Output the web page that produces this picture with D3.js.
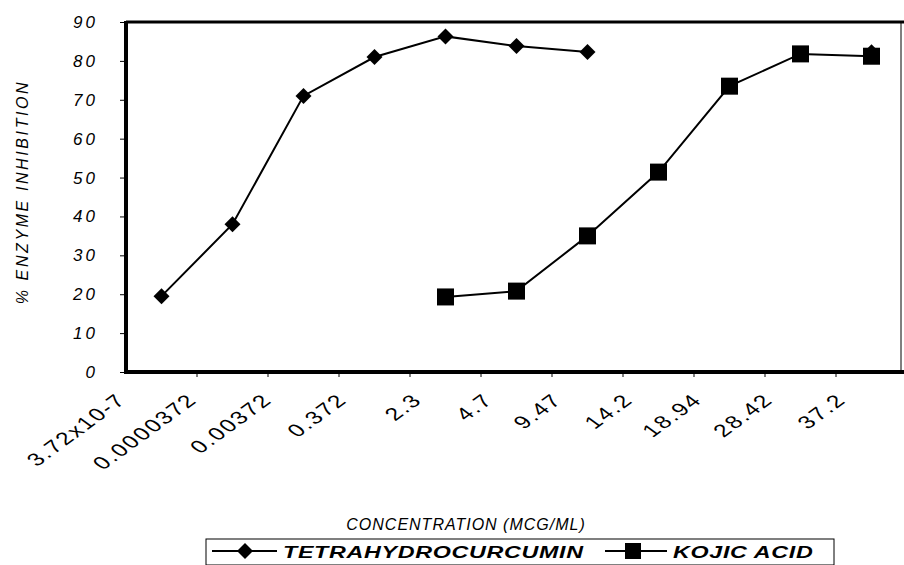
<!doctype html>
<html>
<head>
    <script src="https://d3js.org/d3.v7.min.js"></script>
    <style>
        body { margin: 0; background: #fff; }
        text { font-family: "Liberation Sans", Arial, sans-serif; fill: #000; }
    </style>
</head>
<body>
    <script>
        var width = 904;
        var height = 565;

        var categories = ["3.72x10-7", "0.0000372", "0.00372", "0.372", "2.3", "4.7",
                          "9.47", "14.2", "18.94", "28.42", "37.2"];
        var thcValues = [19.5, 38, 71, 81, 86.3, 83.8, 82.3, null, null, null, 82.2];
        var kojicValues = [null, null, null, null, 19.3, 20.8, 35, 51.4, 73.5, 81.8, 81.2];
        var yTicks = [0, 10, 20, 30, 40, 50, 60, 70, 80, 90];

        // plot box (note: "top" would clash with window.top)
        var pLeft = 126, pRight = 901, pTop = 22, pBottom = 372;
        // the original scan is stretched sideways, texts get the same stretch
        var stretch = 1.37;

        var x = d3.scaleBand()
                  .domain(categories)
                  .range([pLeft, 907]);
        var y = d3.scaleLinear()
                  .domain([0, 90])
                  .range([pBottom, pTop]);

        function cx(i) { return x(categories[i]) + x.bandwidth() / 2; }

        var svg = d3.select("body")
                    .append("svg")
                    .attr("width", width)
                    .attr("height", height);

        // y axis ticks + labels
        var yAxis = svg.append("g")
                       .attr("transform", "translate(" + pLeft + ",0)")
                       .call(d3.axisLeft(y).tickValues(yTicks).tickSize(6).tickPadding(22));
        yAxis.select(".domain").remove();
        yAxis.selectAll(".tick line").attr("stroke", "#000").attr("stroke-width", 1);
        yAxis.selectAll(".tick text")
             .style("font-size", "17px")
             .style("font-style", "italic")
             .style("letter-spacing", "3px");

        // x tick marks between categories
        svg.selectAll(".xtick")
           .data(categories.slice(1))
           .enter()
           .append("line")
           .attr("x1", function(d){ return x(d); })
           .attr("x2", function(d){ return x(d); })
           .attr("y1", pBottom)
           .attr("y2", pBottom + 5)
           .attr("stroke", "#000")
           .attr("stroke-width", 1);

        // x labels, rotated
        svg.selectAll(".xlabel")
           .data(categories)
           .enter()
           .append("text")
           .attr("text-anchor", "end")
           .attr("transform", function(d, i){
               var px = cx(i) - 16 - 2 * d.length;
               return "translate(" + px + "," + 401 + ") scale(" + stretch + ",1) rotate(-45)";
           })
           .style("font-size", "18px")
           .style("letter-spacing", "1.5px")
           .text(function(d){ return d; });

        // frame
        svg.append("line").attr("x1", pLeft).attr("x2", pLeft).attr("y1", pTop - 1).attr("y2", pBottom + 2)
           .attr("stroke", "#000").attr("stroke-width", 4);
        svg.append("line").attr("x1", pLeft - 2).attr("x2", width).attr("y1", pBottom).attr("y2", pBottom)
           .attr("stroke", "#000").attr("stroke-width", 4);
        svg.append("line").attr("x1", pLeft).attr("x2", width).attr("y1", pTop).attr("y2", pTop)
           .attr("stroke", "#000").attr("stroke-width", 3);
        svg.append("line").attr("x1", pRight).attr("x2", pRight).attr("y1", pTop).attr("y2", pBottom)
           .attr("stroke", "#000").attr("stroke-width", 1);

        // lines
        var line = d3.line()
                     .defined(function(d){ return d != null; })
                     .x(function(d, i){ return cx(i); })
                     .y(function(d){ return y(d); });

        svg.append("path")
           .datum(thcValues)
           .attr("d", line)
           .attr("fill", "none")
           .attr("stroke", "#000")
           .attr("stroke-width", 2);
        svg.append("path")
           .datum(kojicValues)
           .attr("d", line)
           .attr("fill", "none")
           .attr("stroke", "#000")
           .attr("stroke-width", 2);

        var diamond = "M0,-8L8,0L0,8L-8,0Z";

        svg.selectAll(".thc")
           .data(thcValues.map(function(v, i){ return {v: v, i: i}; }).filter(function(d){ return d.v != null; }))
           .enter()
           .append("path")
           .attr("d", diamond)
           .attr("transform", function(d){ return "translate(" + cx(d.i) + "," + y(d.v) + ")"; })
           .attr("fill", "#000");

        svg.selectAll(".kojic")
           .data(kojicValues.map(function(v, i){ return {v: v, i: i}; }).filter(function(d){ return d.v != null; }))
           .enter()
           .append("rect")
           .attr("x", function(d){ return cx(d.i) - 8.5; })
           .attr("y", function(d){ return y(d.v) - 8.5; })
           .attr("width", 17)
           .attr("height", 17)
           .attr("fill", "#000");

        // axis titles
        svg.append("text")
           .attr("transform", "translate(28,192) rotate(-90)")
           .attr("text-anchor", "middle")
           .style("font-size", "16px")
           .style("font-style", "italic")
           .style("letter-spacing", "2.6px")
           .text("% ENZYME INHIBITION");

        svg.append("text")
           .attr("x", 466)
           .attr("y", 530)
           .attr("text-anchor", "middle")
           .style("font-size", "16px")
           .style("font-style", "italic")
           .style("letter-spacing", "1px")
           .text("CONCENTRATION (MCG/ML)");

        // legend
        var lg = svg.append("g");
        lg.append("rect")
          .attr("x", 206).attr("y", 539).attr("width", 628).attr("height", 26)
          .attr("fill", "none").attr("stroke", "#000").attr("stroke-width", 1);

        lg.append("line").attr("x1", 212).attr("x2", 277).attr("y1", 551).attr("y2", 551)
          .attr("stroke", "#000").attr("stroke-width", 2);
        lg.append("path").attr("d", diamond).attr("transform", "translate(245,551)").attr("fill", "#000");
        lg.append("text")
          .attr("transform", "translate(283,558) scale(" + stretch + ",1)")
          .style("font-size", "17px").style("font-weight", "bold").style("font-style", "italic")
          .style("letter-spacing", "0.5px")
          .text("TETRAHYDROCURCUMIN");

        lg.append("line").attr("x1", 605).attr("x2", 667).attr("y1", 551).attr("y2", 551)
          .attr("stroke", "#000").attr("stroke-width", 2);
        lg.append("rect").attr("x", 625).attr("y", 543).attr("width", 16).attr("height", 16).attr("fill", "#000");
        lg.append("text")
          .attr("transform", "translate(673,558) scale(" + stretch + ",1)")
          .style("font-size", "17px").style("font-weight", "bold").style("font-style", "italic")
          .style("letter-spacing", "0.5px")
          .text("KOJIC ACID");
    </script>
</body>
</html>
